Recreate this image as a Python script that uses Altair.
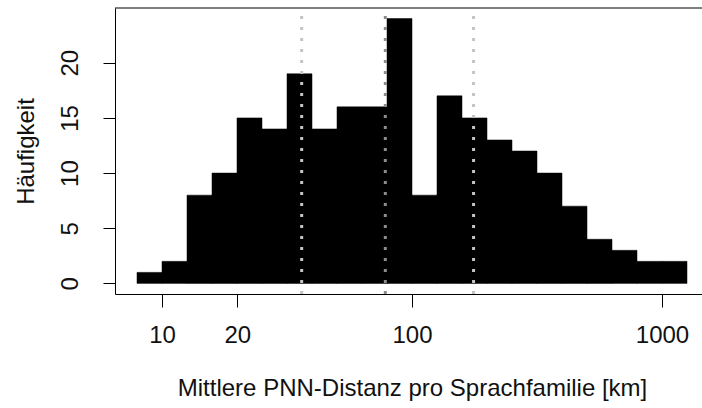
import altair as alt
import pandas as pd

# Histogram of mean nearest-neighbour distances per language family (log10 bins of 0.1)
log_edges = [0.9, 1.0, 1.1, 1.2, 1.3, 1.4, 1.5, 1.6, 1.7, 1.8, 1.9, 2.0,
             2.1, 2.2, 2.3, 2.4, 2.5, 2.6, 2.7, 2.8, 2.9, 3.0, 3.1]
counts = [1, 2, 8, 10, 15, 14, 19, 14, 16, 16, 24, 8,
          17, 15, 13, 12, 10, 7, 4, 3, 2, 2]

# Quartiles / median marked as dotted reference lines [km]
ref_values = [36.2, 78.2, 176.3]
ref_colors = ["#c4c4c4", "#8c8c8c", "#c4c4c4"]

x_ticks = [10, 20, 100, 1000]
y_ticks = [0, 5, 10, 15, 20]

FONT = "Liberation Sans"
FS = 24
W, H = 587, 286
X_DOMAIN = [10 ** 0.812, 10 ** (0.812 + W / 250)]
Y_DOMAIN = [-0.96, 24.96]

bars = pd.DataFrame({
    "lo": [10 ** e for e in log_edges[:-1]],
    "hi": [10 ** e for e in log_edges[1:]],
    "n": counts,
})
refs = pd.DataFrame({"v": ref_values, "c": ref_colors})

x_scale = alt.Scale(type="log", domain=X_DOMAIN, nice=False)
y_scale = alt.Scale(domain=Y_DOMAIN, nice=False, zero=False)

x_axis = alt.Axis(
    values=x_ticks, format="d", grid=False,
    domain=True, domainColor="black", domainWidth=1,
    ticks=True, tickColor="black", tickSize=13, tickWidth=1,
    labelFont=FONT, labelFontSize=FS, labelColor="#111",
    labelBaseline="alphabetic", labelPadding=35, labelOverlap=False,
    labelFlush=False, labelBound=False,
    title="Mittlere PNN-Distanz pro Sprachfamilie [km]",
    titleFont=FONT, titleFontSize=FS, titleFontWeight="normal", titleColor="#111",
    titleBaseline="alphabetic", titleAlign="center", titleX=297, titleY=101,
)
y_axis = alt.Axis(
    values=y_ticks, grid=False,
    domain=True, domainColor="black", domainWidth=1,
    ticks=True, tickColor="black", tickSize=12, tickWidth=1,
    labelFont=FONT, labelFontSize=FS, labelColor="#111",
    labelAngle=270, labelAlign="center", labelBaseline="alphabetic",
    labelPadding=26, labelOverlap=False, labelFlush=False, labelBound=False,
    title="Häufigkeit",
    titleFont=FONT, titleFontSize=FS, titleFontWeight="normal", titleColor="#111",
    titleAngle=270, titleAlign="center", titleBaseline="alphabetic",
    titleX=-82, titleY=143,
)

hist = alt.Chart(bars).mark_rect(color="black", stroke="black", strokeWidth=0.5).encode(
    x=alt.X("lo:Q", scale=x_scale, axis=x_axis),
    x2="hi:Q",
    y=alt.Y("n:Q", scale=y_scale, axis=y_axis),
    y2=alt.datum(0),
)

ref_lines = alt.Chart(refs).mark_rule(strokeWidth=3, strokeDash=[3, 8]).encode(
    x=alt.X("v:Q", scale=x_scale),
    y=alt.datum(Y_DOMAIN[0]),
    y2=alt.datum(Y_DOMAIN[1]),
    color=alt.Color("c:N", scale=None),
)

# upper edge of the plot frame
top_edge = alt.Chart(pd.DataFrame({"k": [0]})).mark_rule(color="black", strokeWidth=1).encode(
    x=alt.value(0), x2=alt.value(W), y=alt.value(0)
)

chart = alt.layer(hist, ref_lines, top_edge).properties(
    width=W, height=H,
    autosize=alt.AutoSizeParams(type="none"),
    padding={"left": 115, "top": 8, "right": 0, "bottom": 114},
    background="white",
).configure_view(stroke=None)

chart.save("out.html", embed_options={"renderer": "svg", "actions": False})
